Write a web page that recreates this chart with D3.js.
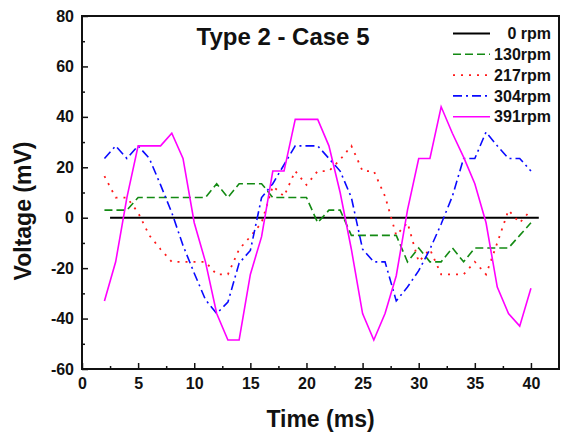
<!DOCTYPE html>
<html>
<head>
    <meta charset="utf-8">
    <title>Type 2 - Case 5</title>
    <script src="https://d3js.org/d3.v7.min.js"></script>
    <style>
        body { margin: 0; background: #fff; }
        text { font-family: "Liberation Sans", Arial, sans-serif; font-weight: bold; fill: #111; }
    </style>
</head>
<body>
    <script>
        // Data (time in ms, voltage in mV)
        const time = [2,3,4,5,6,7,8,9,10,11,12,13,14,15,16,17,18,19,20,21,
                      22,23,24,25,26,27,28,29,30,31,32,33,34,35,36,37,38,39,40];
        const rpm0Time = [2.5, 40.7];
        const rpm0 = [0, 0];
        const rpm130 = [3,3,3,8,8,8,8,8,8,8,13.5,8,13.5,13.5,13.5,8,8,8,8,-2,
                        3,3,-7,-7,-7,-7,-7,-17.5,-12,-17.5,-17.5,-12,-17.5,-12,-12,-12,-12,-7,-2];
        const rpm217 = [16.5,8,8,2,-7,-12.5,-17.5,-17.5,-17.5,-17.5,-22.5,-22.5,-12.5,-7.5,-2,12.5,8.5,18.5,13,18.5,
                        18.5,23,28.5,18.5,18.5,8.5,-7,-2,-17.5,-12.5,-22.5,-22.5,-22.5,-17.5,-22.5,-10,3,-2,3];
        const rpm304 = [23.5,28.5,23.5,28.5,23.5,13,2,-11,-22,-32.5,-38,-33.5,-18,-13,8,13.5,21,28.5,28.5,28.5,
                        23.5,18.5,8,-12.5,-17.5,-17.5,-33,-27.5,-21,-12.5,-2.5,8.5,23.5,23.5,34,28.5,23.5,23.5,18.5];
        const rpm391 = [-33,-17.5,8,28.5,28.5,28.5,33.5,23.5,-2,-17.5,-38,-48.5,-48.5,-22.5,-7.5,18.5,18.5,39,39,39,
                        28.5,10,-12.5,-38,-48.5,-38,-23,3,23.5,23.5,44,33.5,24,13.5,-2,-27.5,-38,-43,-28];

        const xTicks = [0,5,10,15,20,25,30,35,40];
        const xMinor = [2.5,7.5,12.5,17.5,22.5,27.5,32.5,37.5];
        const yTicks = [-60,-40,-20,0,20,40,60,80];
        const yMinor = [-50,-30,-10,10,30,50,70];

        const series = [
            {name: "0 rpm",  t: rpm0Time, v: rpm0,   color: "#000000", dash: null,      w: 2},
            {name: "130rpm", t: time,     v: rpm130, color: "#138a13", dash: "8,4",     w: 1.6},
            {name: "217rpm", t: time,     v: rpm217, color: "#ff1a1a", dash: "2,6",     w: 1.8},
            {name: "304rpm", t: time,     v: rpm304, color: "#0a0aff", dash: "9,4,2,4", w: 1.6},
            {name: "391rpm", t: time,     v: rpm391, color: "#ff00ff", dash: null,      w: 1.6}
        ];

        const margin = {top: 16, right: 5, bottom: 65, left: 82},
            width = 564 - margin.left - margin.right,
            height = 434 - margin.top - margin.bottom;

        const svg = d3.select("body")
          .append("svg")
            .attr("width", 564)
            .attr("height", 434)
          .append("g")
            .attr("transform", `translate(${margin.left},${margin.top})`);

        const x = d3.scaleLinear().domain([0, 42.5]).range([0, width]);
        const y = d3.scaleLinear().domain([-60, 80]).range([height, 0]);

        // plain hyphen for negatives, like the original
        const fmt = d => String(d);

        // Axes, ticks pointing inward
        svg.append("g")
          .attr("transform", `translate(0,${height})`)
          .call(d3.axisBottom(x).tickValues(xTicks).tickFormat(fmt).tickSizeInner(-6).tickSizeOuter(0).tickPadding(9));
        svg.append("g")
          .attr("transform", `translate(0,${height})`)
          .call(d3.axisBottom(x).tickValues(xMinor).tickSizeInner(-3).tickSizeOuter(0).tickFormat(""));
        svg.append("g")
          .call(d3.axisLeft(y).tickValues(yTicks).tickFormat(fmt).tickSizeInner(-6).tickSizeOuter(0).tickPadding(8));
        svg.append("g")
          .call(d3.axisLeft(y).tickValues(yMinor).tickSizeInner(-3).tickSizeOuter(0).tickFormat(""));

        svg.selectAll(".domain").remove();
        svg.selectAll(".tick line").attr("stroke", "#111").attr("stroke-width", 1.5);
        svg.selectAll(".tick text").style("font-size", "16px").attr("fill", "#111");

        // Frame
        svg.append("rect")
          .attr("width", width)
          .attr("height", height)
          .attr("fill", "none")
          .attr("stroke", "#111")
          .attr("stroke-width", 2);

        // Lines
        const line = d3.line()
          .x(d => x(d[0]))
          .y(d => y(d[1]));

        series.forEach(function(s) {
            svg.append("path")
              .datum(s.t.map((t, i) => [t, s.v[i]]))
              .attr("fill", "none")
              .attr("stroke", s.color)
              .attr("stroke-width", s.w)
              .attr("stroke-dasharray", s.dash)
              .attr("d", line);
        });

        // Title
        svg.append("text")
          .attr("x", 283 - margin.left)
          .attr("y", 45 - margin.top)
          .attr("text-anchor", "middle")
          .style("font-size", "24px")
          .text("Type 2 - Case 5");

        // Legend
        series.forEach(function(s, i) {
            const ly = 33.5 + i * 20.8 - margin.top;
            svg.append("line")
              .attr("x1", 453 - margin.left)
              .attr("x2", 490 - margin.left)
              .attr("y1", ly)
              .attr("y2", ly)
              .attr("stroke", s.color)
              .attr("stroke-width", s.w)
              .attr("stroke-dasharray", s.dash);
            svg.append("text")
              .attr("x", 551 - margin.left)
              .attr("y", ly)
              .attr("dy", "0.36em")
              .attr("text-anchor", "end")
              .style("font-size", "16px")
              .text(s.name);
        });

        // Axis titles
        svg.append("text")
          .attr("x", width / 2)
          .attr("y", 427 - margin.top)
          .attr("text-anchor", "middle")
          .style("font-size", "23px")
          .text("Time (ms)");

        svg.append("text")
          .attr("transform", `translate(${31 - margin.left},${211 - margin.top}) rotate(-90)`)
          .attr("text-anchor", "middle")
          .style("font-size", "23px")
          .text("Voltage (mV)");
    </script>
</body>
</html>
